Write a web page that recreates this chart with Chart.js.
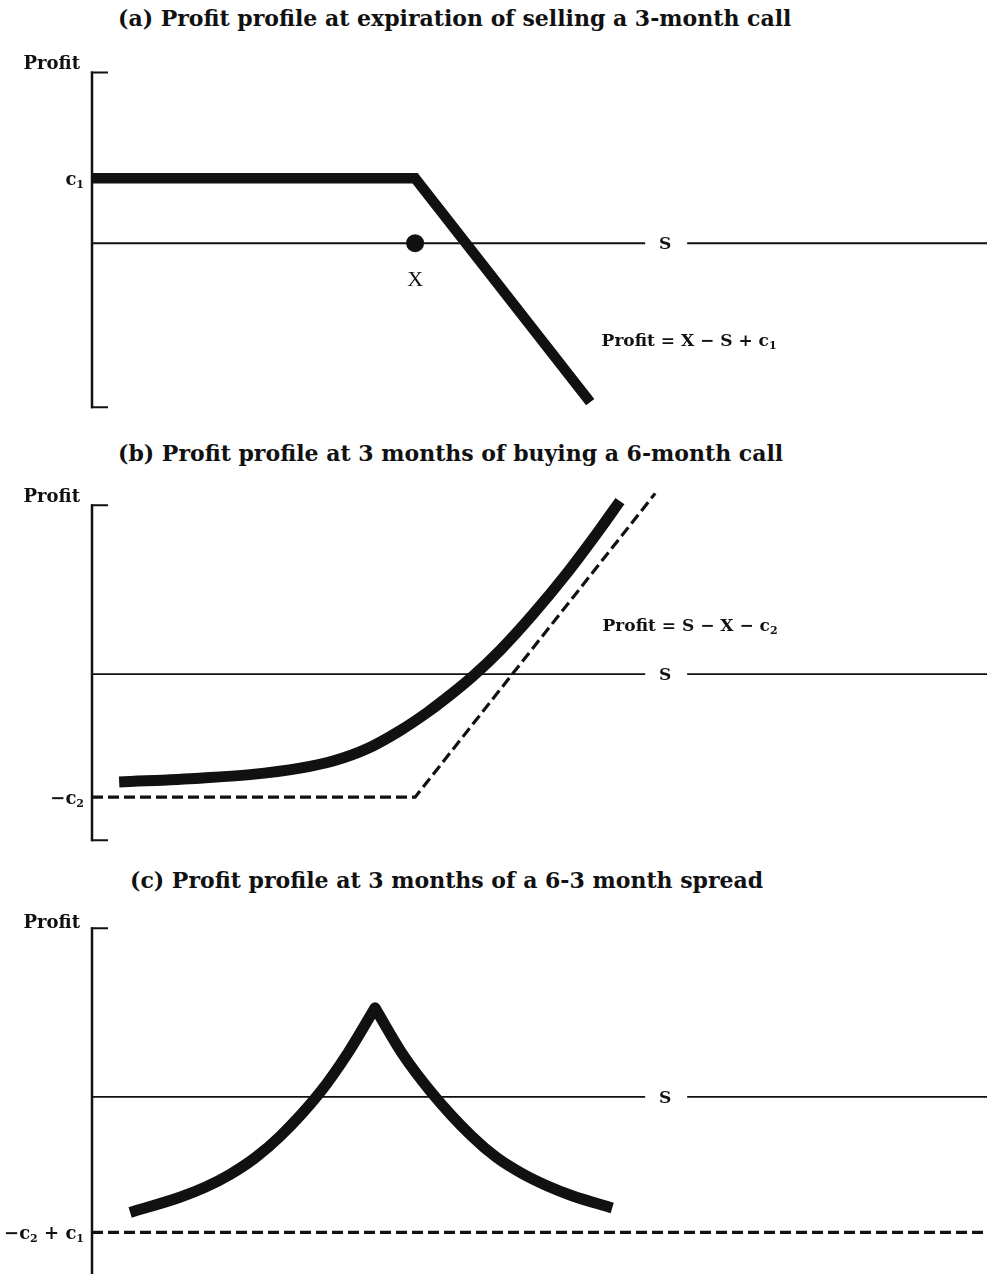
<!DOCTYPE html>
<html><head><meta charset="utf-8">
<script src="https://cdn.jsdelivr.net/npm/chart.js@4.4.0/dist/chart.umd.min.js"></script>
<style>
html,body{margin:0;padding:0;background:#fff;width:987px;height:1274px;overflow:hidden;position:relative}
.title{position:absolute;font-family:"DejaVu Serif",serif;font-weight:bold;font-size:22px;color:#111;white-space:nowrap;line-height:1}
canvas{position:absolute;left:0}
</style></head><body>
<div class="title" style="top:7px;left:118px">(a) Profit profile at expiration of selling a 3-month call</div>
<div class="title" style="top:442px;left:118px">(b) Profit profile at 3 months of buying a 6-month call</div>
<div class="title" style="top:869px;left:130px">(c) Profit profile at 3 months of a 6-3 month spread</div>
<canvas id="ca" width="987" height="394" style="top:43px"></canvas>
<canvas id="cb" width="987" height="381" style="top:474px"></canvas>
<canvas id="cc" width="987" height="377" style="top:897px"></canvas>
<script>
// ---------- data (S on x, profit on y) ----------
const sRange = [0, 277];
const sLabelGap = [171.2, 184.2];
const sLabelAt = 177.4;

// (a) selling a 3-month call, at expiration
const aShortCallS = [0, 100, 154.2];
const aShortCallProfit = [20.1, 20.1, -49.2];
const aStrikeS = [100];
const aStrikeProfit = [0];
const aTickValues = [20.1];
const aTickLabels = ['c_1'];
const aFormula = 'Profit = X − S + c_1';

// (b) buying a 6-month call, value at 3 months
const bCallS = [8.4, 33.4, 48.9, 64.4, 74.6, 85.1, 95.3, 103.7, 110.8, 117.9, 126.3, 136.5, 147.0, 157.2, 163.4];
const bCallProfit = [-33.4, -32.2, -31.1, -29.1, -26.9, -23.1, -17.5, -11.9, -6.5, -0.6, 7.4, 18.6, 31.3, 44.9, 53.6];
const bExpiryS = [0, 100, 174.3];
const bExpiryProfit = [-38.1, -38.1, 56.0];
const bTickValues = [-38.1];
const bTickLabels = ['−c_2'];
const bFormula = 'Profit = S − X − c_2';

// (c) 6-3 month calendar spread at 3 months
const cLeftS = [11.8, 27.2, 35.0, 42.7, 50.4, 58.2, 70.6, 79.2, 87.6];
const cLeftProfit = [-35.9, -31.2, -28.1, -24.1, -19.0, -12.3, 1.4, 13.6, 27.6];
const cRightS = [87.6, 95.9, 105.2, 117.6, 125.3, 133.1, 140.8, 148.6, 161.0];
const cRightProfit = [27.6, 13.6, 1.2, -12.3, -18.9, -23.8, -27.6, -30.7, -34.5];
const cFloorS = [0, 277];
const cFloorProfit = [-42.1, -42.1];
const cTickValues = [-42.1];
const cTickLabels = ['−c_2 + c_1'];

// ---------- helpers ----------
const INK = '#111';
const SERIF = '"DejaVu Serif", serif';
function pts(xs, ys){ return xs.map((x,i)=>({x, y: ys[i]})); }

function drawRich(ctx, str, x, cy, align, size, weight, family){
  weight = weight || 'bold'; family = family || SERIF;
  const parts = [];
  let buf = '';
  for (let i=0;i<str.length;i++){
    if (str[i]==='_' && i+1<str.length){ if(buf) parts.push([buf,false]); buf=''; parts.push([str[i+1],true]); i++; }
    else buf += str[i];
  }
  if (buf) parts.push([buf,false]);
  const mf = `${weight} ${size}px ${family}`, sf = `${weight} ${Math.round(size*0.62)}px ${family}`;
  let w = 0;
  const ws = parts.map(p=>{ ctx.font = p[1]?sf:mf; const m = ctx.measureText(p[0]).width; w+=m; return m; });
  let cx = align==='right' ? x - w : align==='center' ? x - w/2 : x;
  const base = cy + size*0.36;
  ctx.fillStyle = INK; ctx.textAlign='left'; ctx.textBaseline='alphabetic';
  parts.forEach((p,i)=>{ ctx.font = p[1]?sf:mf; ctx.fillText(p[0], cx, p[1]? base + size*0.18 : base); cx += ws[i]; });
}

const decor = {
  id: 'decor',
  beforeDatasetsDraw(chart, args, o){
    const ctx = chart.ctx, xs = chart.scales.x, ys = chart.scales.y;
    const x0 = xs.getPixelForValue(0);
    const yt = ys.getPixelForValue(o.axisTop), yb = ys.getPixelForValue(o.axisBottom);
    const y0 = ys.getPixelForValue(0);
    ctx.save();
    ctx.strokeStyle = INK; ctx.lineCap='butt';
    ctx.lineWidth = 2.5;
    ctx.beginPath(); ctx.moveTo(x0, yt-1); ctx.lineTo(x0, yb+1); ctx.stroke();
    ctx.lineWidth = 2;
    ctx.beginPath(); ctx.moveTo(x0-1, yt); ctx.lineTo(x0+16, yt);
    if (o.bottomTick){ ctx.moveTo(x0-1, yb); ctx.lineTo(x0+16, yb); }
    ctx.stroke();
    // S axis with gap for label
    ctx.lineWidth = 1.8;
    ctx.beginPath();
    ctx.moveTo(x0, y0); ctx.lineTo(xs.getPixelForValue(sLabelGap[0]), y0);
    ctx.moveTo(xs.getPixelForValue(sLabelGap[1]), y0); ctx.lineTo(xs.getPixelForValue(sRange[1]), y0);
    ctx.stroke();
    ctx.restore();
  },
  afterDatasetsDraw(chart, args, o){
    const ctx = chart.ctx, xs = chart.scales.x, ys = chart.scales.y;
    const x0 = xs.getPixelForValue(0);
    const yt = ys.getPixelForValue(o.axisTop);
    const y0 = ys.getPixelForValue(0);
    ctx.save();
    drawRich(ctx, 'Profit', x0-12, yt + o.profitDy, 'right', 18);
    drawRich(ctx, 'S', xs.getPixelForValue(sLabelAt), y0, 'center', 17);
    o.tickValues.forEach((v,i)=> drawRich(ctx, o.tickLabels[i], x0-8, ys.getPixelForValue(v), 'right', 18));
    (o.texts||[]).forEach(t=> drawRich(ctx, t.t, xs.getPixelForValue(t.x), ys.getPixelForValue(t.y), t.align||'center', t.size||17, t.weight, t.family));
    ctx.restore();
  }
};

function makeChart(id, datasets, yMin, yMax, decorOpts){
  return new Chart(document.getElementById(id), {
    type: 'line',
    data: { datasets },
    options: {
      responsive: false, animation: false, devicePixelRatio: 1,
      layout: { autoPadding: false, padding: { left: 92, right: 0, top: 0, bottom: 0 } },
      scales: {
        x: { type: 'linear', min: sRange[0], max: sRange[1], display: false },
        y: { type: 'linear', min: yMin, max: yMax, display: false }
      },
      plugins: { legend: { display: false }, tooltip: { enabled: false }, decor: decorOpts },
      elements: { point: { radius: 0 }, line: { capBezierPoints: false } }
    },
    plugins: [decor]
  });
}
const thick = { borderColor: INK, borderWidth: 10.5, pointRadius: 0, fill: false, clip: false, borderCapStyle: 'butt' };
const dashed = { borderColor: INK, borderWidth: 3.2, borderDash: [11, 5], pointRadius: 0, fill: false, clip: false, tension: 0, borderCapStyle: 'butt' };

// (a)
makeChart('ca', [
  Object.assign({ data: pts(aShortCallS, aShortCallProfit), tension: 0, borderJoinStyle: 'miter' }, thick),
  { data: pts(aStrikeS, aStrikeProfit), showLine: false, pointRadius: 9, pointBackgroundColor: INK, pointBorderWidth: 0, clip: false }
], -60, 62, {
  axisTop: 52.9, axisBottom: -50.8, bottomTick: true, profitDy: -10,
  tickValues: aTickValues, tickLabels: aTickLabels,
  texts: [
    { t: 'X', x: aStrikeS[0], y: -10.8, size: 22, weight: 'normal', family: '"Liberation Serif", serif' },
    { t: aFormula, x: 184.8, y: -30.0 }
  ]
});

// (b)
makeChart('cb', [
  Object.assign({ data: pts(bExpiryS, bExpiryProfit) }, dashed),
  Object.assign({ data: pts(bCallS, bCallProfit), cubicInterpolationMode: 'monotone' }, thick, { borderWidth: 11 })
], -56, 62, {
  axisTop: 52.3, axisBottom: -51.4, bottomTick: true, profitDy: -10,
  tickValues: bTickValues, tickLabels: bTickLabels,
  texts: [ { t: bFormula, x: 185.1, y: 15.2 } ]
});

// (c)
makeChart('cc', [
  Object.assign({ data: pts(cFloorS, cFloorProfit) }, dashed),
  Object.assign({ data: pts(cLeftS, cLeftProfit), cubicInterpolationMode: 'monotone' }, thick, {
    borderWidth: 11,
    pointRadius: c => c.dataIndex === cLeftS.length - 1 ? 5.5 : 0,
    pointBackgroundColor: INK, pointBorderWidth: 0 }),
  Object.assign({ data: pts(cRightS, cRightProfit), cubicInterpolationMode: 'monotone' }, thick, { borderWidth: 11 })
], -55, 62, {
  axisTop: 52.3, axisBottom: -56, bottomTick: false, profitDy: -7,
  tickValues: cTickValues, tickLabels: cTickLabels, texts: []
});
</script>
</body></html>
